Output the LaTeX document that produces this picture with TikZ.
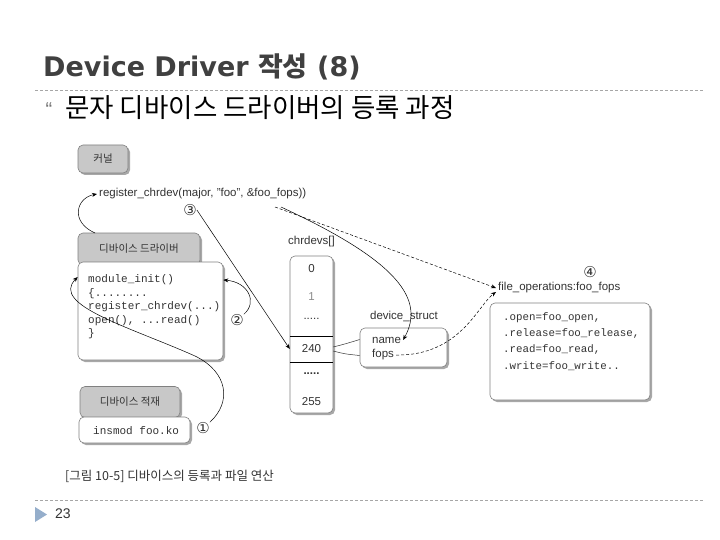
\documentclass[tikz,border=0pt]{standalone}
\usepackage{fontspec}
\setmainfont{Liberation Sans}
\setmonofont{Liberation Mono}
\newfontfamily\cjk{Noto Sans CJK KR}
\newfontfamily\dejavu{DejaVu Sans}
\usetikzlibrary{arrows.meta,shadows}
\definecolor{ttl}{HTML}{404040}
\definecolor{sepc}{HTML}{A6A6A6}
\definecolor{hdrf}{HTML}{C8C8C8}
\definecolor{bord}{HTML}{808080}
\definecolor{shd}{HTML}{A8A8A8}
\definecolor{tri}{HTML}{95AECB}
\definecolor{txt}{HTML}{333333}
\begin{document}
\begin{tikzpicture}[x=1pt,y=-1pt,
  arr/.style={-{Stealth[length=5pt,width=4pt]},line width=0.5pt,draw=black},
  ln/.style={line width=0.5pt,draw=black!80},
  sepline/.style={draw=sepc,line width=0.7pt,dash pattern=on 3pt off 2pt},
  hdr/.style={draw=bord,fill=hdrf,rounded corners=5pt,line width=0.6pt,
    drop shadow={shadow xshift=2pt,shadow yshift=-2pt,fill=shd,opacity=1},
    font=\cjk\fontsize{10.5}{12}\selectfont,text=txt,inner sep=0pt},
  body/.style={draw=bord,fill=white,rounded corners=5pt,line width=0.6pt,
    drop shadow={shadow xshift=2pt,shadow yshift=-2pt,fill=shd,opacity=1},inner sep=0pt},
  lbl/.style={font=\fontsize{11.5}{13}\selectfont,text=txt,inner sep=2pt},
  code/.style={font=\ttfamily\fontsize{11}{12}\selectfont,text=txt,inner sep=2pt,anchor=west},
  fcode/.style={font=\ttfamily\fontsize{10.8}{12}\selectfont,text=txt,inner sep=2pt,anchor=west},
  num/.style={font=\dejavu\fontsize{15}{16}\selectfont,text=txt,inner sep=0pt}
]
\useasboundingbox (0,0) rectangle (720,540);
\fill[white] (0,0) rectangle (720,540);

% title and header
\node[anchor=base west,inner sep=0pt,text=ttl,font=\dejavu\bfseries\fontsize{27}{30}\selectfont] (title) at (43,77) {Device Driver {\cjk\bfseries 작성} (8)};
\draw[sepline] (35,90) -- (703,90);
\node[anchor=base,inner sep=0pt,text=black!55,font=\fontsize{20}{20}\selectfont] (bul) at (49,117) {“};
\node[anchor=base west,inner sep=0pt,font=\cjk\fontsize{26.5}{28}\selectfont] (sub) at (65,118) {문자 디바이스 드라이버의 등록 과정};

% kernel
\node[hdr,minimum width=50pt,minimum height=28pt] (kern) at (103,159) {커널};
\node[lbl,anchor=west] (reg) at (97,194) {register\_chrdev(major, "foo", \&foo\_fops))};
\node[num] (n3) at (190,210) {③};

% device driver
\node[hdr,minimum width=122pt,minimum height=32pt] (drvh) at (139,249) {디바이스 드라이버};
\node[body,minimum width=145pt,minimum height=98pt] (drvb) at (150.5,311) {};
\node[code] (c1) at (86,280) {module\_init()};
\node[code] (c2) at (86,293.5) {\{........};
\node[code] (c3) at (86,307) {register\_chrdev(...)};
\node[code] (c4) at (86,320.5) {open(), ...read()};
\node[code] (c5) at (86,334) {\}};
\node[num] (n2) at (237,320) {②};

% device load
\node[hdr,minimum width=100pt,minimum height=31pt] (insh) at (130,402) {디바이스 적재};
\node[body,minimum width=111pt,minimum height=26pt] (insb) at (134.5,430) {};
\node[code] (ins) at (91,431) {insmod foo.ko};
\node[num] (n1) at (203,428) {①};

% chrdevs
\node[lbl] (chl) at (311.5,242) {chrdevs[]};
\node[body,minimum width=43pt,minimum height=157pt] (arr) at (311.5,334.5) {};
\node[lbl] (e0) at (311.5,269) {0};
\node[lbl,text=black!45] (e1) at (311.5,297) {1};
\node[lbl] (ed1) at (311.5,319) {.....};
\node[lbl,minimum width=43pt,minimum height=26pt,inner sep=0pt] (e240) at (311.5,349) {240};
\draw[line width=0.6pt] (e240.north west) -- (e240.north east);
\draw[line width=0.6pt] (e240.south west) -- (e240.south east);
\node[lbl] (ed2) at (311.5,374) {\textbf{.....}};
\node[lbl] (e255) at (311.5,402) {255};

% device_struct
\node[lbl] (dsl) at (404,316) {device\_struct};
\node[body,minimum width=87pt,minimum height=39pt] (ds) at (403.5,347.5) {};
\node[lbl,anchor=west] (name) at (370,340) {name};
\node[lbl,anchor=west] (fops) at (370,355) {fops};

% file operations
\node[num] (n4) at (590,272) {④};
\node[lbl,anchor=west] (fol) at (496,288) {file\_operations:foo\_fops};
\node[body,minimum width=160pt,minimum height=97pt] (fob) at (570,351.5) {};
\node[fcode] (f1) at (501,318) {.open=foo\_open,};
\node[fcode] (f2) at (501,334) {.release=foo\_release,};
\node[fcode] (f3) at (501,350) {.read=foo\_read,};
\node[fcode] (f4) at (501,366) {.write=foo\_write..};

% caption
\node[anchor=west,inner sep=0pt,text=txt,font=\cjk\fontsize{12.5}{14}\selectfont] (cap) at (65,476) {[그림 10-5] 디바이스의 등록과 파일 연산};

% footer
\draw[sepline] (35,500) -- (703,500);
\fill[tri] (35,507) -- (47,514.5) -- (35,522) -- cycle;
\node[anchor=base west,inner sep=0pt,text=txt,font=\fontsize{14}{16}\selectfont] (pg) at (55,518) {23};

% connectors
\coordinate (dstart) at (95,233);
\coordinate (foo1) at (275,207);
\coordinate (foo2) at (281,207);
\draw[arr] (dstart) .. controls (70,222) and (76,198) .. (reg.west);
\draw[arr] (n3.east) -- (e240.west);
\draw[arr,densely dashed] (foo1) -- (fol.west);
\draw[arr] (foo2) .. controls (400,262) and (425,300) .. (name.east);
\draw[ln] ([yshift=2pt]e240.east) .. controls (345,344) .. ([yshift=8pt]ds.west);
\draw[ln] ([yshift=-2pt]e240.east) .. controls (345,354) .. ([yshift=-8pt]ds.west);
\draw[arr,densely dashed] (fops.east) .. controls (460,356) and (478,305) .. ([yshift=-4pt]fol.west);
\draw[arr] (n2.north east) .. controls (258,302) and (248,282) .. ([yshift=31pt]drvb.east);
\draw[arr] (n1.north east) .. controls (232,402) and (228,372) .. (195,356) .. controls (130,327) and (50,305) .. ([yshift=34pt]drvb.west);
\end{tikzpicture}
\end{document}
